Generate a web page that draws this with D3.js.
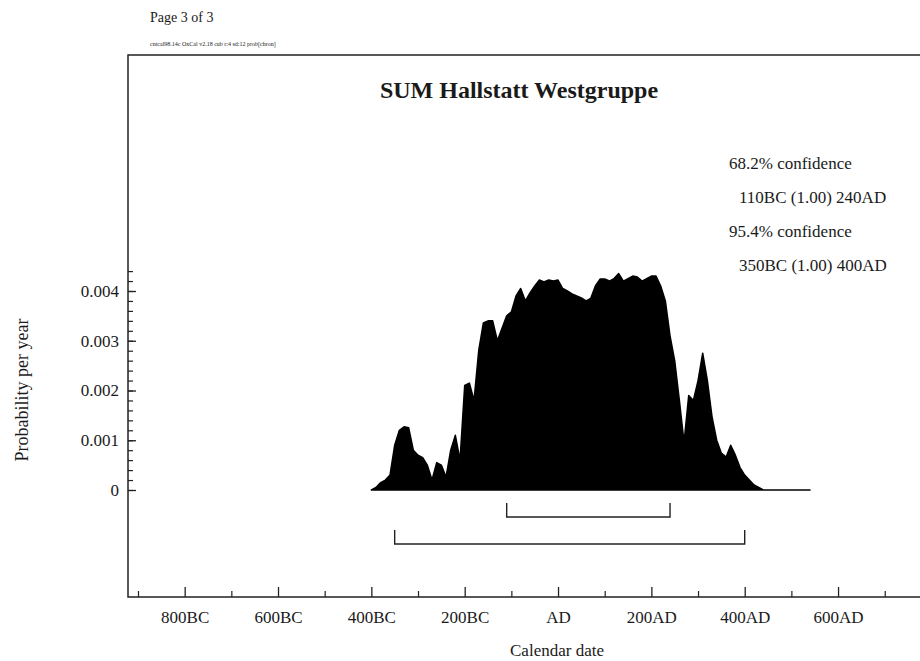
<!DOCTYPE html>
<html>
<head>
<meta charset="utf-8">
<script src="https://cdn.jsdelivr.net/npm/d3@7"></script>
<style>
	body { margin: 0; background: #fff; }
	svg text { font-family: "Liberation Serif", "DejaVu Serif", serif; fill: #1a1a1a; }
</style>
</head>
<body>
<div id="chart"></div>
<script>
//summed probability, every 10 years
var years = [-400,-390,-380,-370,-360,-350,-340,-330,-320,-310,-300,-290,-280,-270,-260,-250,-240,-230,-220,-210,
	-200,-190,-180,-170,-160,-150,-140,-130,-120,-110,-100,-90,-80,-70,-60,-50,-40,-30,-20,-10,
	0,10,20,30,40,50,60,70,80,90,100,110,120,130,140,150,160,170,180,190,
	200,210,220,230,240,250,260,270,280,290,300,310,320,330,340,350,360,370,380,390,
	400,410,420,430,440,460,480,500,520,540];
var probs = [0,0.00005,0.00015,0.0002,0.0003,0.0009,0.0012,0.00127,0.00125,0.0008,0.0007,0.00065,0.0005,0.0002,0.00055,0.0005,0.00026,0.0008,0.0011,0.0006,
	0.0021,0.00215,0.0018,0.0028,0.00336,0.0034,0.0034,0.003,0.00325,0.0035,0.00358,0.0039,0.00405,0.0038,0.00396,0.0041,0.00422,0.00418,0.00422,0.0042,
	0.00422,0.00405,0.004,0.00394,0.0039,0.00386,0.0038,0.00385,0.0041,0.00424,0.00424,0.0042,0.00425,0.00435,0.0042,0.00425,0.0043,0.00428,0.0042,0.00425,
	0.0043,0.0043,0.0041,0.0038,0.0031,0.0026,0.0018,0.00096,0.0019,0.0018,0.0022,0.00275,0.0022,0.00147,0.001,0.00074,0.00066,0.0009,0.0007,0.00045,
	0.0003,0.0002,0.0001,0.00005,0,0,0,0,0,0];

var xTickYears = [-800,-600,-400,-200,0,200,400,600];
var xTickLabels = ["800BC","600BC","400BC","200BC","AD","200AD","400AD","600AD"];
var yTickValues = [0,0.001,0.002,0.003,0.004];
var yTickLabels = ["0","0.001","0.002","0.003","0.004"];

var range68 = [-110, 240];
var range95 = [-350, 400];
var confLines = ["68.2% confidence","110BC (1.00) 240AD","95.4% confidence","350BC (1.00) 400AD"];

var chartTitle = "SUM Hallstatt Westgruppe";
var pageText = "Page 3 of 3";
var infoText = "cntcal98.14c  OxCal v2.18 cub r:4 sd:12 prob[chron]";

function drawChart(){
	var W = 920, H = 661;
	var boxLeft = 128, boxTop = 55, boxBottom = 597;

	var svg = d3.select("#chart").append("svg")
		.attr("width", W)
		.attr("height", H);

	var x = d3.scaleLinear()
		.domain([-900, 700])
		.range([138, 138 + 1600 * 0.4667]);

	var y = d3.scaleLinear()
		.domain([0, 0.004])
		.range([490, 291]);

	//frame
	svg.append("path")
		.attr("d", "M" + W + "," + boxTop + "H" + boxLeft + "V" + boxBottom + "H" + W)
		.attr("fill", "none")
		.attr("stroke", "#222")
		.attr("stroke-width", 1.5);

	//header
	svg.append("text").attr("x", 150).attr("y", 22).style("font-size", "14px").text(pageText);
	svg.append("text").attr("x", 150).attr("y", 46).style("font-size", "6px").text(infoText);

	svg.append("text")
		.attr("x", 519).attr("y", 98)
		.attr("text-anchor", "middle")
		.style("font-size", "24px")
		.style("font-weight", "bold")
		.text(chartTitle);

	svg.selectAll(".conf")
		.data(confLines)
	  .enter().append("text")
		.attr("class", "conf")
		.attr("x", function(d, i) { return i % 2 == 0 ? 729 : 739; })
		.attr("y", function(d, i) { return 169 + i * 34; })
		.style("font-size", "17px")
		.text(function(d) { return d; });

	//x axis, ticks inward
	var xAxis = d3.axisBottom(x)
		.tickValues(xTickYears)
		.tickFormat(function(d, i) { return xTickLabels[i]; })
		.tickSizeInner(-10)
		.tickSizeOuter(0)
		.tickPadding(14);

	var gx = svg.append("g")
		.attr("transform", "translate(0," + boxBottom + ")")
		.call(xAxis);
	gx.select(".domain").remove();
	gx.selectAll("line").attr("stroke", "#222").attr("stroke-width", 1.3);
	gx.selectAll("text").style("font-size", "17px").attr("fill", "#1a1a1a")
		.style("font-family", "Liberation Serif, serif");

	var gxMinor = svg.append("g")
		.attr("transform", "translate(0," + boxBottom + ")")
		.call(d3.axisBottom(x).tickValues(d3.range(-900, 701, 200)).tickSize(-6).tickFormat(""));
	gxMinor.select(".domain").remove();
	gxMinor.selectAll("line").attr("stroke", "#222").attr("stroke-width", 1.2);

	//y axis
	var yAxis = d3.axisLeft(y)
		.tickValues(yTickValues)
		.tickFormat(function(d, i) { return yTickLabels[i]; })
		.tickSizeInner(-8)
		.tickSizeOuter(0)
		.tickPadding(9);

	var gy = svg.append("g")
		.attr("transform", "translate(" + boxLeft + ",0)")
		.call(yAxis);
	gy.select(".domain").remove();
	gy.selectAll("line").attr("stroke", "#222").attr("stroke-width", 1.3);
	gy.selectAll("text").style("font-size", "17px").attr("fill", "#1a1a1a")
		.style("font-family", "Liberation Serif, serif");

	var gyMinor = svg.append("g")
		.attr("transform", "translate(" + boxLeft + ",0)")
		.call(d3.axisLeft(y).tickValues(d3.range(0, 0.00441, 0.0002)).tickSize(-5).tickFormat(""));
	gyMinor.select(".domain").remove();
	gyMinor.selectAll("line").attr("stroke", "#222").attr("stroke-width", 1.2);

	//axis titles
	svg.append("text")
		.attr("transform", "translate(28,390) rotate(-90)")
		.attr("text-anchor", "middle")
		.style("font-size", "18px")
		.text("Probability per year");

	svg.append("text")
		.attr("x", 557).attr("y", 656)
		.attr("text-anchor", "middle")
		.style("font-size", "17px")
		.text("Calendar date");

	//distribution
	var area = d3.area()
		.x(function(d, i) { return x(years[i]); })
		.y0(y(0))
		.y1(function(d) { return y(d); });

	svg.append("path")
		.datum(probs)
		.attr("d", area)
		.attr("fill", "#000")
		.attr("stroke", "#000")
		.attr("stroke-width", 1.5)
		.attr("stroke-linejoin", "round");

	//confidence brackets
	function bracket(r, yy){
		svg.append("path")
			.attr("d", "M" + x(r[0]) + "," + (yy - 14) + "V" + yy + "H" + x(r[1]) + "V" + (yy - 14))
			.attr("fill", "none")
			.attr("stroke", "#222")
			.attr("stroke-width", 1.4);
	}
	bracket(range68, 517);
	bracket(range95, 544);
}

drawChart();
</script>
</body>
</html>
